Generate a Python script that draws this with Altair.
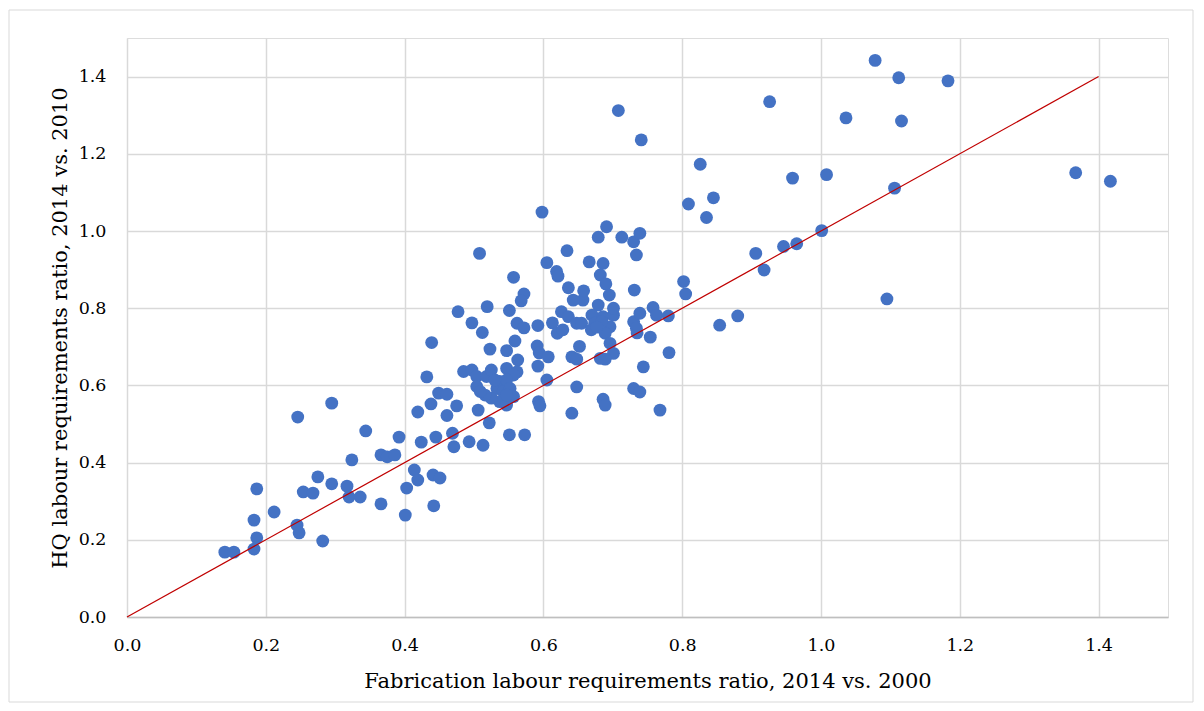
import altair as alt
import pandas as pd

# Fabrication ratio (x) and HQ ratio (y) for each point
fab_ratio = [
    0.141, 0.154, 0.183, 0.187, 0.183, 0.187, 0.212, 0.245, 0.248, 0.282,
    0.246, 0.295, 0.254, 0.268, 0.275, 0.295, 0.317, 0.320, 0.336, 0.324,
    0.344, 0.366, 0.375, 0.386, 0.366, 0.401, 0.403, 0.414, 0.419, 0.392,
    0.424, 0.419, 0.438, 0.441, 0.442, 0.445, 0.451,
    0.439, 0.432, 0.449, 0.461, 0.475, 0.461, 0.506, 0.522, 0.469, 0.471,
    0.493, 0.513, 0.551, 0.573, 0.477, 0.519, 0.551, 0.557, 0.508, 0.598,
    0.572, 0.568, 0.497, 0.512, 0.562, 0.572, 0.592, 0.613, 0.626, 0.620,
    0.628, 0.636, 0.648, 0.559, 0.523, 0.547, 0.563, 0.591, 0.594, 0.607,
    0.592, 0.605, 0.641, 0.648, 0.648, 0.593, 0.595, 0.641,
    0.485, 0.497, 0.504, 0.518, 0.525, 0.547, 0.562, 0.557, 0.537, 0.547,
    0.533, 0.542, 0.552, 0.557, 0.537, 0.525, 0.516, 0.504, 0.509, 0.547,
    0.530, 0.547,
    0.652, 0.679, 0.670, 0.686, 0.701, 0.655, 0.674, 0.696, 0.689, 0.730,
    0.657, 0.696, 0.701, 0.682, 0.689, 0.735, 0.734, 0.754, 0.744, 0.781,
    0.730, 0.739, 0.686, 0.689, 0.768, 0.854, 0.880,
    0.809, 0.845, 0.835, 0.691, 0.679, 0.713, 0.730, 0.739, 0.734, 0.634,
    0.666, 0.686, 0.682, 0.690, 0.695, 0.605, 0.619, 0.621, 0.636, 0.658,
    0.643, 0.731, 0.701, 0.739, 0.758, 0.763, 0.780, 0.669, 0.684, 0.677,
    0.708, 0.741, 0.826,
    1.078, 1.112, 1.183, 0.926, 1.036, 1.116, 0.959, 1.008, 1.106, 1.367,
    1.417, 1.001, 0.946, 0.965, 0.906, 0.918, 1.095, 0.802, 0.805,
]
hq_ratio = [
    0.168, 0.168, 0.176, 0.205, 0.251, 0.332, 0.272, 0.238, 0.218, 0.197,
    0.518, 0.554, 0.324, 0.321, 0.363, 0.345, 0.339, 0.311, 0.311, 0.407,
    0.482, 0.420, 0.415, 0.420, 0.293, 0.264, 0.334, 0.381, 0.355, 0.466,
    0.453, 0.531, 0.552, 0.368, 0.288, 0.466, 0.360,
    0.711, 0.622, 0.580, 0.577, 0.547, 0.522, 0.536, 0.503, 0.476, 0.441,
    0.454, 0.445, 0.472, 0.472, 0.791, 0.804, 0.794, 0.880, 0.942, 1.049,
    0.837, 0.819, 0.762, 0.737, 0.761, 0.749, 0.755, 0.762, 0.791, 0.735,
    0.744, 0.778, 0.761, 0.715, 0.694, 0.690, 0.666, 0.702, 0.684, 0.674,
    0.650, 0.614, 0.674, 0.668, 0.596, 0.558, 0.547, 0.528,
    0.636, 0.640, 0.623, 0.623, 0.640, 0.644, 0.635, 0.627, 0.610, 0.614,
    0.592, 0.584, 0.592, 0.571, 0.558, 0.567, 0.575, 0.597, 0.584, 0.549,
    0.614, 0.575,
    0.701, 0.808, 0.782, 0.778, 0.782, 0.761, 0.761, 0.752, 0.735, 0.765,
    0.821, 0.709, 0.683, 0.670, 0.668, 0.736, 0.748, 0.725, 0.648, 0.685,
    0.592, 0.583, 0.564, 0.549, 0.536, 0.756, 0.780,
    1.070, 1.086, 1.035, 1.011, 0.984, 0.984, 0.972, 0.994, 0.938, 0.949,
    0.920, 0.916, 0.886, 0.863, 0.834, 0.918, 0.895, 0.883, 0.853, 0.845,
    0.821, 0.847, 0.800, 0.787, 0.802, 0.782, 0.780, 0.744, 0.765, 0.751,
    1.312, 1.236, 1.173,
    1.442, 1.397, 1.389, 1.335, 1.293, 1.285, 1.137, 1.146, 1.111, 1.151,
    1.129, 1.001, 0.960, 0.967, 0.942, 0.899, 0.824, 0.869, 0.837,
]

line_x = [0.0, 1.4]
line_y = [0.0, 1.4]
tick_values = [0.0, 0.2, 0.4, 0.6, 0.8, 1.0, 1.2, 1.4]

pts = pd.DataFrame({"fab": fab_ratio, "hq": hq_ratio})
ref = pd.DataFrame({"fab": line_x, "hq": line_y})

FONT = "DejaVu Serif"

x_enc = alt.X(
    "fab:Q",
    scale=alt.Scale(domain=[0, 1.5], nice=False, zero=True),
    axis=alt.Axis(
        values=tick_values, format=".1f",
        title="Fabrication labour requirements ratio, 2014 vs. 2000",
        grid=True, gridColor="#d9d9d9", gridWidth=1.5,
        domain=True, domainColor="#bfbfbf", domainWidth=1.5,
        ticks=False, tickSize=0, labelPadding=19, labelFlush=False,
        labelFont=FONT, labelFontSize=17.5, labelColor="#000000",
        titleFont=FONT, titleFontSize=21, titleFontWeight="normal",
        titleColor="#000000", titleY=70, titleBaseline="alphabetic",
    ),
)
y_enc = alt.Y(
    "hq:Q",
    scale=alt.Scale(domain=[0, 1.5], nice=False, zero=True),
    axis=alt.Axis(
        values=tick_values, format=".1f",
        title="HQ labour requirements ratio, 2014 vs. 2010",
        grid=True, gridColor="#d9d9d9", gridWidth=1.5,
        domain=False, ticks=False, tickSize=0, labelPadding=21,
        labelFlush=False,
        labelFont=FONT, labelFontSize=17.5, labelColor="#000000",
        titleFont=FONT, titleFontSize=21, titleFontWeight="normal",
        titleColor="#000000", titleX=-61, titleAngle=270,
        titleBaseline="alphabetic",
    ),
)

points = alt.Chart(pts).mark_circle(
    size=165, color="#4472C4", opacity=1
).encode(x=x_enc, y=y_enc)

diag = alt.Chart(ref).mark_line(
    color="#C00000", strokeWidth=1.2
).encode(x="fab:Q", y="hq:Q")

frame = alt.Chart(pd.DataFrame({"k": [0]})).mark_rect(
    fill=None, fillOpacity=0, stroke="#d9d9d9", strokeWidth=1
).encode(
    x=alt.value(-118), x2=alt.value(1066),
    y=alt.value(-28), y2=alt.value(664),
)

chart = alt.layer(points, diag, frame).properties(
    width=1041, height=579,
    autosize=alt.AutoSizeParams(type="none"),
    padding={"left": 119, "top": 30, "right": 28, "bottom": 86},
).configure_view(stroke=None).configure(background="#ffffff")

chart.save("out.html", embed_options={"renderer": "svg", "actions": False})
